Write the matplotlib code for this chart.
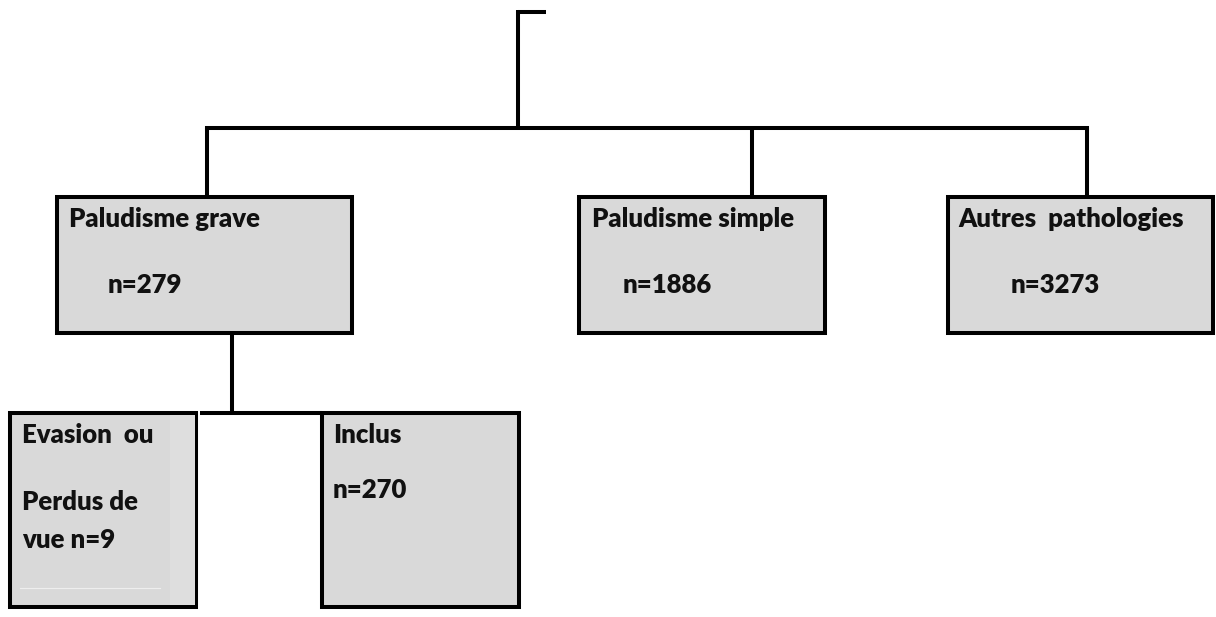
import matplotlib.pyplot as plt
from matplotlib.patches import Rectangle

# ---------------------------
# Données du diagramme
# ---------------------------
niveau1_labels = ["Paludisme grave", "Paludisme simple", "Autres  pathologies"]
niveau1_n = [279, 1886, 3273]
niveau2_labels = ["Evasion  ou", "Inclus"]
niveau2_n = [9, 270]

# ---------------------------
# Mise en page (pixels, origine en haut à gauche)
# ---------------------------
W, H = 1216, 617
fig = plt.figure(figsize=(W / 100, H / 100), dpi=100)
ax = fig.add_axes([0, 0, 1, 1])
ax.set_xlim(0, W)
ax.set_ylim(H, 0)
ax.axis("off")

lw = 2.9
gris = "#d9d9d9"
font = dict(family=["Lato", "DejaVu Sans"], fontweight="heavy", fontsize=18.5, color="#111111")

# boîtes niveau 1 : (gauche, haut, droite, bas)
boites1 = [(57, 197, 352, 333), (579, 197, 825, 333), (948, 197, 1213, 333)]
attache1 = [207, 752, 1087]
pos_txt1 = [(69, 108), (592, 623), (958, 1011)]

# boîtes niveau 2
boites2 = [(10, 413, 196, 607), (322, 413, 519, 607)]


def boite(b):
    x0, y0, x1, y1 = b
    ax.add_patch(Rectangle((x0, y0), x1 - x0, y1 - y0, facecolor=gris,
                           edgecolor="black", linewidth=lw, zorder=2))


# connecteurs du haut
ax.plot([518, 518], [10, 128], color="black", lw=lw, solid_capstyle="butt")
ax.plot([518, 546], [12, 12], color="black", lw=lw, solid_capstyle="butt")
ax.plot([attache1[0], attache1[-1]], [128, 128], color="black", lw=lw,
        solid_capstyle="projecting")
for xa in attache1:
    ax.plot([xa, xa], [128, 197], color="black", lw=lw, solid_capstyle="butt")

for b, lab, n, (xt, xn) in zip(boites1, niveau1_labels, niveau1_n, pos_txt1):
    boite(b)
    ax.text(xt, 227, lab, va="baseline", ha="left", zorder=3, **font)
    ax.text(xn, 293, f"n={n}", va="baseline", ha="left", zorder=3, **font)

# connecteurs du bas
ax.plot([232, 232], [333, 413], color="black", lw=lw, solid_capstyle="butt")
ax.plot([200, 322], [413, 413], color="black", lw=lw, solid_capstyle="butt")

for b in boites2:
    boite(b)

# détails de la boîte "Evasion"
ax.add_patch(Rectangle((170, 415), 25, 190, facecolor="#dedede", edgecolor="none", zorder=2.5))
ax.plot([20, 160], [588, 588], color="#eeeeee", lw=0.8, zorder=2.5)

ax.text(22, 443, niveau2_labels[0], va="baseline", ha="left", zorder=3, **font)
ax.text(22, 510, "Perdus de", va="baseline", ha="left", zorder=3, **font)
ax.text(22, 548, f"vue n={niveau2_n[0]}", va="baseline", ha="left", zorder=3, **font)

ax.text(333, 443, niveau2_labels[1], va="baseline", ha="left", zorder=3, **font)
ax.text(333, 498, f"n={niveau2_n[1]}", va="baseline", ha="left", zorder=3, **font)

fig.savefig("out.png", dpi=100, facecolor="white")
